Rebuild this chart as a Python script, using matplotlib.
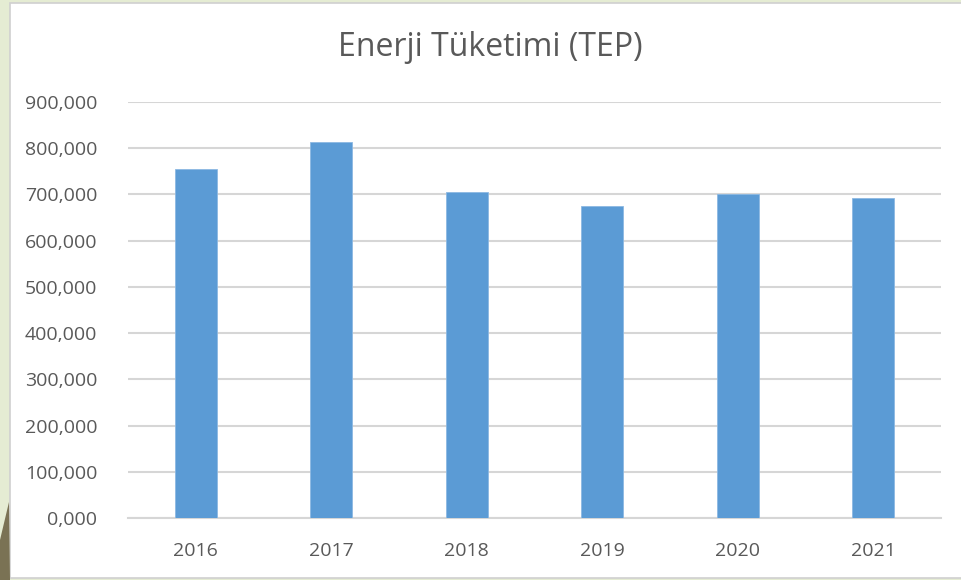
import matplotlib
import matplotlib.pyplot as plt
from matplotlib.patches import Rectangle, Polygon

matplotlib.use('Agg')
plt.rcParams['font.family'] = ['Open Sans', 'DejaVu Sans']

# veriler
years = ['2016', '2017', '2018', '2019', '2020', '2021']
consumption = [755000, 813000, 705000, 675000, 700000, 691000]
y_ticks = [0, 100000, 200000, 300000, 400000, 500000, 600000, 700000, 800000, 900000]
title = 'Enerji Tüketimi (TEP)'

W, H = 962, 580
fig = plt.figure(figsize=(W / 100, H / 100), dpi=100)
fig.patch.set_facecolor('#e5ecd3')

# beyaz grafik alanı
fig.patches.append(Rectangle((10 / W, 2 / H), (W - 10) / W, (H - 5) / H,
                             transform=fig.transFigure, facecolor='white',
                             edgecolor='#d0d0d0', linewidth=1.2, zorder=-2))
# sol alttaki süs
fig.patches.append(Polygon([(0, 0), (0, 40 / H), (9 / W, 78 / H), (10 / W, 0)],
                           closed=True, transform=fig.transFigure,
                           facecolor='#7a7254', edgecolor='none', zorder=-2))

ax = fig.add_axes([128 / W, (H - 518.3) / H, (941 - 128) / W, (518.3 - 101.7) / H])
ax.set_facecolor('none')

x = range(len(years))
ax.bar(x, consumption, width=0.31, color='#5b9bd5', edgecolor='#8cb8e3',
       linewidth=0.6, zorder=3)

ax.set_ylim(0, 900000)
ax.set_xlim(-0.5, len(years) - 0.5)
ax.set_yticks(y_ticks)
ax.set_yticklabels([f'{v // 1000},000' for v in y_ticks])
ax.set_xticks(list(x))
ax.set_xticklabels(years)

ax.grid(axis='y', color='#d6d6d6', linewidth=1.5, zorder=0)
for s in ['top', 'right', 'left']:
    ax.spines[s].set_visible(False)
ax.spines['bottom'].set_color('#d6d6d6')
ax.spines['bottom'].set_linewidth(1.5)
ax.tick_params(axis='both', length=0, labelsize=14, colors='#595959')
ax.tick_params(axis='y', pad=22)
ax.tick_params(axis='x', pad=17)

fig.text(490 / W, 1 - 48 / H, title, ha='center', va='center',
         fontsize=23, color='#595959')

fig.savefig('out.png', dpi=100, facecolor=fig.get_facecolor())
